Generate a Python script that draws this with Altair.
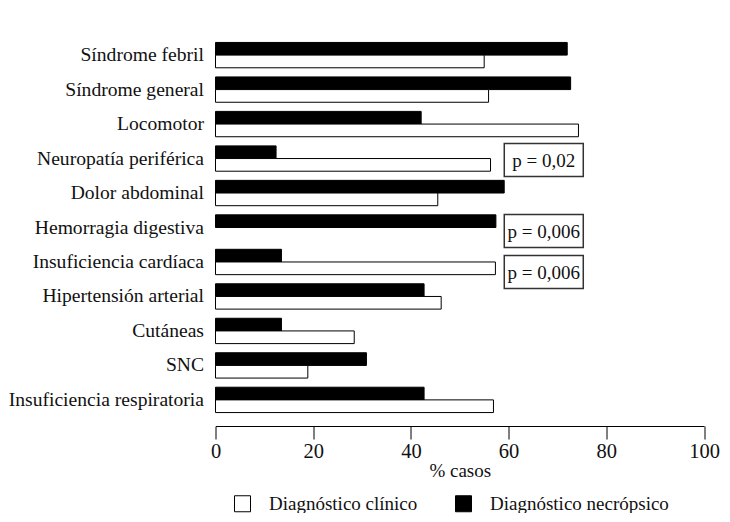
import altair as alt
import pandas as pd

categorias = ["Síndrome febril", "Síndrome general", "Locomotor", "Neuropatía periférica",
              "Dolor abdominal", "Hemorragia digestiva", "Insuficiencia cardíaca",
              "Hipertensión arterial", "Cutáneas", "SNC", "Insuficiencia respiratoria"]
clinico = [55.0, 55.9, 74.3, 56.3, 45.5, 0.0, 57.3, 46.2, 28.4, 18.9, 56.9]
necropsico = [72.0, 72.7, 42.1, 12.4, 59.1, 57.4, 13.5, 42.7, 13.5, 30.9, 42.7]
series = ["Diagnóstico clínico", "Diagnóstico necrópsico"]

p_textos = ["p = 0,02", "p = 0,006", "p = 0,006"]
p_categorias = ["Neuropatía periférica", "Hemorragia digestiva", "Insuficiencia cardíaca"]
p_x = [67.2, 67.2, 67.2]

rows = []
for c, vc, vn in zip(categorias, clinico, necropsico):
    rows.append({"categoria": c, "serie": series[1], "valor": vn})
    rows.append({"categoria": c, "serie": series[0], "valor": vc})
df = pd.DataFrame(rows)

FONT = "Liberation Serif"

y_enc = alt.Y("categoria:N", sort=categorias, title=None,
              scale=alt.Scale(paddingInner=0.265, paddingOuter=0.39),
              axis=alt.Axis(ticks=False, domain=False, labelPadding=12, labelFontSize=19.6,
                            labelColor="#111", labelFont=FONT, labelLimit=300))

bars = alt.Chart(df).mark_bar(stroke="black", strokeWidth=1).encode(
    y=y_enc,
    yOffset=alt.YOffset("serie:N", sort=[series[1], series[0]]),
    x=alt.X("valor:Q", title="% casos",
            scale=alt.Scale(domain=[0, 100], nice=False),
            axis=alt.Axis(values=[0, 20, 40, 60, 80, 100], grid=False, tickSize=13,
                          tickColor="black", domainColor="black", labelColor="#111",
                          labelFontSize=20.5, labelFont=FONT, labelPadding=2,
                          labelFlush=False, labelOverlap=False,
                          titleFont=FONT, titleFontSize=19, titleFontWeight="normal",
                          titleColor="#111", titlePadding=0)),
    color=alt.Color("serie:N", sort=series,
                    scale=alt.Scale(domain=series, range=["white", "black"]),
                    legend=alt.Legend(title=None, orient="none", direction="horizontal",
                                      legendX=17.5, legendY=465, symbolType="square",
                                      symbolSize=256, symbolStrokeColor="black",
                                      symbolStrokeWidth=1, labelFontSize=19, labelFont=FONT,
                                      labelColor="#111", labelOffset=17, columnPadding=35,
                                      labelLimit=300, padding=0)),
).transform_filter("datum.valor > 0")

layers = [bars]
offsets = [1.5, 3.5, 10]
for t, c, xv, off in zip(p_textos, p_categorias, p_x, offsets):
    d = pd.DataFrame({"categoria": [c], "x": [xv], "texto": [t]})
    box = alt.Chart(d).mark_point(shape="M-1,-0.418H1V0.418H-1Z", size=79 * 79, filled=False,
                                  stroke="#333", strokeWidth=1.5, opacity=1, yOffset=off).encode(
        y=alt.Y("categoria:N", sort=categorias), x=alt.X("x:Q"))
    txt = alt.Chart(d).mark_text(font=FONT, fontSize=19, color="#111", yOffset=off + 1).encode(
        y=alt.Y("categoria:N", sort=categorias), x=alt.X("x:Q"), text="texto:N")
    layers += [box, txt]

chart = alt.layer(*layers).properties(
    width=488.5, height=397,
    autosize=alt.AutoSizeParams(type="none"),
    padding={"top": 21, "left": 207.5, "right": 17, "bottom": 87},
).configure_view(stroke=None)

chart.save("out.html", embed_options={"renderer": "svg", "actions": False})
